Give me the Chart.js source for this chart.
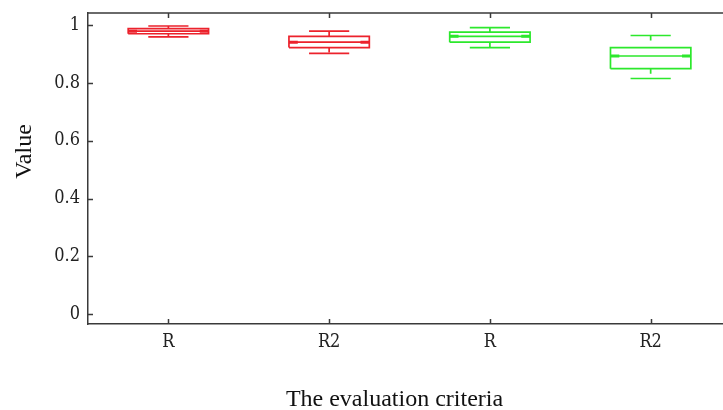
<!doctype html>
<html>
<head>
<title>Box plot - evaluation criteria</title>
	<script src="https://cdn.jsdelivr.net/npm/chart.js@4/dist/chart.umd.min.js"></script>
	<style>
		html, body {
			margin: 0;
			padding: 0;
			background: #fff;
			overflow: hidden;
		}
	</style>
</head>

<body>
	<canvas id="canvas" width="723" height="410"></canvas>
	<script>
		// one box per criterion
		var categories = ['R', 'R2', 'R', 'R2'];
		var boxColors = ['rgb(236,34,44)', 'rgb(236,34,44)', 'rgb(44,232,44)', 'rgb(44,232,44)'];
		var lowerCap = [0.960, 0.903, 0.923, 0.816];
		var q1 = [0.971, 0.923, 0.942, 0.850];
		var median = [0.980, 0.942, 0.962, 0.894];
		var q3 = [0.989, 0.962, 0.977, 0.923];
		var upperCap = [0.998, 0.980, 0.992, 0.965];
		var yTicks = [0, 0.2, 0.4, 0.6, 0.8, 1];

		var axisColor = '#3a3a3a';
		var tickFont = {family: '"DejaVu Serif Condensed", "DejaVu Serif", serif', size: 18};
		var titleFont = '24px "Liberation Serif", serif';
		var boxHalf = 0.25;
		var capHalf = 0.125;
		var notch = 0.055;

		function gap(x) {
			return {x: x, y: null};
		}

		var datasets = [];
		categories.forEach(function(cat, i) {
			var x = i + 1;
			var solid = [
				{x: x - boxHalf, y: q1[i]}, {x: x + boxHalf, y: q1[i]},
				{x: x + boxHalf, y: q3[i]}, {x: x - boxHalf, y: q3[i]},
				{x: x - boxHalf, y: q1[i]}, gap(x),
				{x: x - boxHalf, y: median[i]}, {x: x + boxHalf, y: median[i]}, gap(x),
				{x: x - capHalf, y: upperCap[i]}, {x: x + capHalf, y: upperCap[i]}, gap(x),
				{x: x - capHalf, y: lowerCap[i]}, {x: x + capHalf, y: lowerCap[i]}
			];
			// dashes start at the cap on top and at the box below
			var whiskers = [
				{x: x, y: upperCap[i]}, {x: x, y: q3[i]}, gap(x),
				{x: x, y: q1[i]}, {x: x, y: lowerCap[i]}
			];
			// heavier stubs at both ends of the median
			var ends = [
				{x: x - boxHalf, y: median[i]}, {x: x - boxHalf + notch, y: median[i]}, gap(x),
				{x: x + boxHalf - notch, y: median[i]}, {x: x + boxHalf, y: median[i]}
			];
			datasets.push({
				label: cat,
				data: solid,
				borderColor: boxColors[i],
				borderWidth: 1.7
			});
			datasets.push({
				label: cat + ' whiskers',
				data: whiskers,
				borderColor: boxColors[i],
				borderWidth: 1.7,
				borderDash: [5, 8]
			});
			datasets.push({
				label: cat + ' median ends',
				data: ends,
				borderColor: boxColors[i],
				borderWidth: 3
			});
		});

		// top frame line, inward tick marks and both axis titles
		var framePlugin = {
			id: 'frame',
			afterDraw: function(chart) {
				var ctx = chart.ctx;
				var area = chart.chartArea;
				var xs = chart.scales.x;
				var ys = chart.scales.y;
				ctx.save();
				ctx.strokeStyle = axisColor;
				ctx.lineWidth = 1.5;
				ctx.beginPath();
				ctx.moveTo(area.left, area.top);
				ctx.lineTo(area.right + 2, area.top);
				categories.forEach(function(cat, i) {
					var px = Math.round(xs.getPixelForValue(i + 1)) + 0.5;
					ctx.moveTo(px, area.bottom);
					ctx.lineTo(px, area.bottom - 5);
					ctx.moveTo(px, area.top);
					ctx.lineTo(px, area.top + 5);
				});
				yTicks.forEach(function(v) {
					var py = Math.round(ys.getPixelForValue(v)) + 0.5;
					ctx.moveTo(area.left, py);
					ctx.lineTo(area.left + 5, py);
				});
				ctx.stroke();

				ctx.fillStyle = '#111';
				ctx.font = titleFont;
				ctx.textAlign = 'center';
				ctx.textBaseline = 'alphabetic';
				ctx.fillText('The evaluation criteria', (area.left + area.right) / 2 - 11, 406);

				ctx.translate(25, (area.top + area.bottom) / 2 - 17);
				ctx.rotate(-Math.PI / 2);
				ctx.textBaseline = 'middle';
				ctx.fillText('Value', 0, 0);
				ctx.restore();
			}
		};

		var config = {
			type: 'scatter',
			data: {
				datasets: datasets
			},
			options: {
				responsive: false,
				animation: false,
				devicePixelRatio: 1,
				layout: {
					padding: {top: 13, right: 0, bottom: 0, left: 0}
				},
				elements: {
					point: {radius: 0, hoverRadius: 0},
					line: {tension: 0, fill: false}
				},
				showLine: true,
				spanGaps: false,
				plugins: {
					legend: {display: false},
					tooltip: {enabled: false}
				},
				scales: {
					x: {
						type: 'linear',
						position: 'bottom',
						min: 0.5,
						max: 4.45,
						afterBuildTicks: function(scale) {
							scale.ticks = categories.map(function(c, i) {
								return {value: i + 1};
							});
						},
						afterFit: function(scale) {
							scale.height = 86;
							scale.paddingLeft = 0;
							scale.paddingRight = 0;
						},
						ticks: {
							autoSkip: false,
							maxRotation: 0,
							padding: 8,
							color: '#222',
							font: tickFont,
							callback: function(v) {
								return categories[Math.round(v) - 1];
							}
						},
						grid: {drawOnChartArea: false, drawTicks: false},
						border: {color: axisColor, width: 1.5}
					},
					y: {
						min: -0.035,
						max: 1.043,
						afterBuildTicks: function(scale) {
							scale.ticks = yTicks.map(function(v) {
								return {value: v};
							});
						},
						afterFit: function(scale) {
							scale.width = 88;
							scale.paddingTop = 0;
							scale.paddingBottom = 0;
						},
						ticks: {
							padding: 8,
							color: '#222',
							font: tickFont,
							callback: function(v) {
								return String(+v.toFixed(1));
							}
						},
						grid: {drawOnChartArea: false, drawTicks: false},
						border: {color: axisColor, width: 1.5}
					}
				}
			},
			plugins: [framePlugin]
		};

		window.onload = function() {
			var ctx = document.getElementById('canvas').getContext('2d');
			window.myBox = new Chart(ctx, config);
		};
	</script>
</body>

</html>
